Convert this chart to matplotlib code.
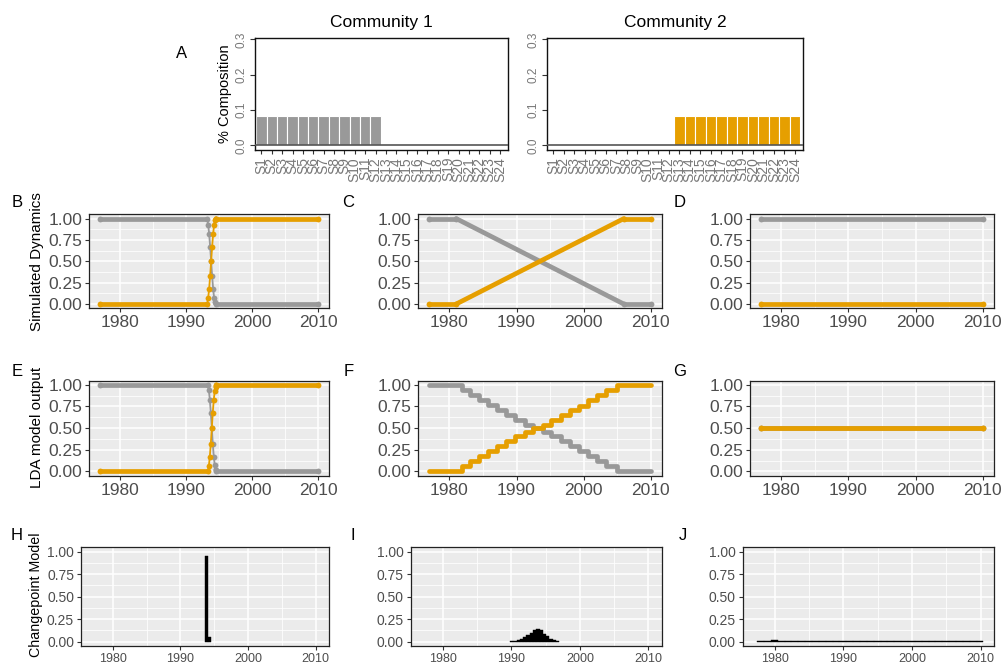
import matplotlib
matplotlib.use("Agg")
import matplotlib.pyplot as plt

plt.rcParams['font.family'] = ['Liberation Sans', 'DejaVu Sans']

# ---------------- data ----------------
species = ["S1", "S2", "S3", "S4", "S5", "S6", "S7", "S8", "S9", "S10", "S11", "S12",
           "S13", "S14", "S15", "S16", "S17", "S18", "S19", "S20", "S21", "S22", "S23", "S24"]
comm1 = [0.083, 0.083, 0.083, 0.083, 0.083, 0.083, 0.083, 0.083, 0.083, 0.083, 0.083, 0.083,
         0, 0, 0, 0, 0, 0, 0, 0, 0, 0, 0, 0]
comm2 = [0, 0, 0, 0, 0, 0, 0, 0, 0, 0, 0, 0,
         0.083, 0.083, 0.083, 0.083, 0.083, 0.083, 0.083, 0.083, 0.083, 0.083, 0.083, 0.083]

# B: simulated abrupt change
b_years = [1977, 1993.2, 1993.35, 1993.5, 1993.65, 1993.8, 1993.95, 1994.1, 1994.25, 1994.4, 1994.55, 2010]
b_comm2 = [0, 0, 0.07, 0.18, 0.33, 0.5, 0.67, 0.82, 0.93, 0.98, 1.0, 1.0]
b_comm1 = [1, 1, 0.93, 0.82, 0.67, 0.5, 0.33, 0.18, 0.07, 0.02, 0.0, 0.0]

# C: simulated gradual change
c_years = [1977, 1981, 2006, 2010]
c_comm1 = [1.0, 1.0, 0.0, 0.0]
c_comm2 = [0.0, 0.0, 1.0, 1.0]

# D: no change
d_years = [1977, 2010]
d_comm1 = [1.0, 1.0]
d_comm2 = [0.0, 0.0]

# E: LDA output, abrupt
e_years = [1977, 1993.3, 1993.45, 1993.6, 1993.75, 1993.9, 1994.05, 1994.2, 1994.35, 1994.5, 1994.6, 2010]
e_comm2 = [0, 0, 0.06, 0.17, 0.32, 0.5, 0.68, 0.83, 0.93, 0.98, 1.0, 1.0]
e_comm1 = [1, 1, 0.94, 0.83, 0.68, 0.5, 0.32, 0.17, 0.07, 0.02, 0.0, 0.0]

# F: LDA output, gradual (stepwise)
f_years = [1977, 1981.8, 1983.1, 1984.4, 1985.8, 1987.1, 1988.5, 1989.8, 1991.2, 1992.5,
           1993.9, 1995.2, 1996.6, 1997.9, 1999.3, 2000.6, 2002.0, 2003.4, 2005.0, 2010]
f_comm1 = [1.0, 0.94, 0.88, 0.82, 0.77, 0.71, 0.65, 0.59, 0.54, 0.50,
           0.46, 0.41, 0.35, 0.29, 0.24, 0.18, 0.12, 0.06, 0.0, 0.0]
f_comm2 = [0.0, 0.06, 0.12, 0.18, 0.23, 0.29, 0.35, 0.41, 0.46, 0.50,
           0.54, 0.59, 0.65, 0.71, 0.76, 0.82, 0.88, 0.94, 1.0, 1.0]

# G: LDA output, no change
g_years = [1977, 2010]
g_comm1 = [0.5, 0.5]
g_comm2 = [0.5, 0.5]

# H-J: changepoint posterior histograms (bin left edges, heights)
h_bins = [1993.6, 1994.08]
h_heights = [0.95, 0.05]
i_bins = [1989.8, 1990.28, 1990.76, 1991.24, 1991.72, 1992.2, 1992.68, 1993.16, 1993.64,
          1994.12, 1994.6, 1995.08, 1995.56, 1996.04, 1996.52]
i_heights = [0.005, 0.008, 0.015, 0.03, 0.05, 0.075, 0.10, 0.13, 0.145,
             0.125, 0.09, 0.06, 0.035, 0.02, 0.01]
j_bins = [1977.4, 1978.4, 1979.4, 1980.4, 1981.4, 1982.4, 1983.4, 1984.4, 1985.4, 1986.4,
          1987.4, 1988.4, 1989.4, 1990.4, 1991.4, 1992.4, 1993.4, 1994.4, 1995.4, 1996.4,
          1997.4, 1998.4, 1999.4, 2000.4, 2001.4, 2002.4, 2003.4, 2004.4, 2005.4, 2006.4,
          2007.4, 2008.4, 2009.4]
j_heights = [0.012, 0.012, 0.02, 0.012, 0.012, 0.012, 0.012, 0.012, 0.012, 0.012,
             0.012, 0.012, 0.012, 0.012, 0.012, 0.012, 0.012, 0.012, 0.012, 0.012,
             0.012, 0.012, 0.012, 0.012, 0.012, 0.012, 0.012, 0.012, 0.012, 0.012,
             0.012, 0.012, 0.012]
hist_binwidth = [0.48, 0.48, 1.0]

GREY = '#999999'
ORANGE = '#E69F00'
TXT = '#4D4D4D'

W, H = 1004, 663
fig = plt.figure(figsize=(W / 100, H / 100), dpi=100)


def rect(l, r, t, b):
    return [l / W, 1 - b / H, (r - l) / W, (b - t) / H]


def ftext(x, y, s, **kw):
    fig.text(x / W, 1 - y / H, s, **kw)


# ---------------- Row A ----------------
def comp_panel(box, vals, color, title, title_xy):
    ax = fig.add_axes(rect(*box))
    pos = list(range(len(species)))
    ax.bar(pos, vals, width=1.0, align='edge', color=color, edgecolor='white', linewidth=0.8, zorder=2)
    ax.axhline(0, color='#555555', lw=1.2, zorder=3)
    ax.set_xlim(-0.12, 24.3)
    ax.set_ylim(-0.013, 0.303)
    ax.set_yticks([0.0, 0.1, 0.2, 0.3])
    ax.set_yticklabels(['0.0', '0.1', '0.2', '0.3'], rotation=90, va='center')
    ax.set_xticks([p + 0.5 for p in pos])
    ax.set_xticklabels(species, rotation=90)
    ax.tick_params(axis='y', length=3.5, width=0.8, color='#333333', labelcolor='#777777',
                   labelsize=8.5, pad=2)
    ax.tick_params(axis='x', length=3, width=0.8, color='#333333', labelcolor='#777777',
                   labelsize=10, pad=2)
    for s in ax.spines.values():
        s.set_color('#111111')
        s.set_linewidth(1.0)
    ftext(title_xy[0], title_xy[1], title, ha='center', va='center', fontsize=12.5)
    return ax


comp_panel((255, 508.3, 38.3, 150), comm1, GREY, 'Community 1', (381.7, 22.5))
comp_panel((546.7, 803.3, 38.3, 150), comm2, ORANGE, 'Community 2', (675, 22.5))
ftext(182, 53, 'A', ha='center', va='center', fontsize=12)
ftext(225, 94, '% Composition', ha='center', va='center', rotation=90, fontsize=10.5)


# ---------------- ggplot-like panels ----------------
def gg_panel(box, xlim, ylim, fsx, fsy):
    ax = fig.add_axes(rect(*box))
    ax.set_facecolor('#EBEBEB')
    ax.set_xlim(*xlim)
    ax.set_ylim(*ylim)
    ax.set_xticks([1980, 1990, 2000, 2010])
    ax.set_xticks([1985, 1995, 2005], minor=True)
    ax.set_yticks([0, 0.25, 0.5, 0.75, 1.0])
    ax.set_yticklabels(['0.00', '0.25', '0.50', '0.75', '1.00'])
    ax.set_yticks([0.125, 0.375, 0.625, 0.875], minor=True)
    ax.grid(which='major', color='white', lw=1.1)
    ax.grid(which='minor', color='white', lw=0.55)
    ax.set_axisbelow(True)
    ax.tick_params(which='minor', length=0)
    ax.tick_params(which='major', length=3, width=0.8, color='#333333', labelcolor=TXT, pad=2)
    ax.tick_params(axis='x', labelsize=fsx)
    ax.tick_params(axis='y', labelsize=fsy)
    for s in ax.spines.values():
        s.set_color('#222222')
        s.set_linewidth(0.9)
    return ax


def draw_series(ax, x, y, color, z):
    for k in range(len(x) - 1):
        dx = x[k + 1] - x[k]
        dy = y[k + 1] - y[k]
        steep = abs(dy) > 0.3 * max(dx, 1e-9)
        ax.plot(x[k:k + 2], y[k:k + 2], color=color, lw=1.3 if steep else 3.4,
                solid_capstyle='round', zorder=z)
    ax.plot(x, y, 'o', color=color, ms=4.2, mew=0, zorder=z)


def draw_steps(ax, x, y, color, z):
    ax.plot(x, y, color=color, lw=3.4, drawstyle='steps-post', solid_capstyle='round',
            solid_joinstyle='round', zorder=z)


XL = (1975.35, 2011.65)
YL = (-0.05, 1.05)
row1 = (214.3, 308.3)
row2 = (380.5, 475.7)
cols = [(89, 329.3), (418.3, 661.7), (750, 994)]

axB = gg_panel((cols[0][0], cols[0][1], *row1), XL, YL, 12.5, 12.5)
draw_series(axB, b_years, b_comm1, GREY, 3)
draw_series(axB, b_years, b_comm2, ORANGE, 4)
axC = gg_panel((cols[1][0], cols[1][1], *row1), XL, YL, 12.5, 12.5)
draw_series(axC, c_years, c_comm1, GREY, 3)
draw_series(axC, c_years, c_comm2, ORANGE, 4)
axD = gg_panel((cols[2][0], cols[2][1], *row1), XL, YL, 12.5, 12.5)
draw_series(axD, d_years, d_comm1, GREY, 3)
draw_series(axD, d_years, d_comm2, ORANGE, 4)

axE = gg_panel((cols[0][0], cols[0][1], *row2), XL, YL, 12.5, 12.5)
draw_series(axE, e_years, e_comm1, GREY, 3)
draw_series(axE, e_years, e_comm2, ORANGE, 4)
axF = gg_panel((cols[1][0], cols[1][1], *row2), XL, YL, 12.5, 12.5)
draw_steps(axF, f_years, f_comm1, GREY, 3)
draw_steps(axF, f_years, f_comm2, ORANGE, 4)
axG = gg_panel((cols[2][0], cols[2][1], *row2), XL, YL, 12.5, 12.5)
draw_series(axG, g_years, g_comm1, GREY, 3)
draw_series(axG, g_years, g_comm2, ORANGE, 4)

XL3 = (1975.3, 2011.95)
YL3 = (-0.048, 1.049)
row3 = (547.3, 646)
hist_sets = [(h_bins, h_heights), (i_bins, i_heights), (j_bins, j_heights)]
cols3 = [(81, 329), (410.7, 661.7), (742.7, 994)]
for (bins, hts), c, bw in zip(hist_sets, cols3, hist_binwidth):
    ax = gg_panel((c[0], c[1], *row3), XL3, YL3, 9, 10)
    ax.bar(bins, hts, width=bw, align='edge', color='black', edgecolor='black', linewidth=0.3, zorder=3)

# panel letters
for lab, x, y in [('B', 16.7, 202.7), ('C', 348.3, 202.7), ('D', 680, 202.7),
                  ('E', 16.7, 372), ('F', 348.3, 371), ('G', 680, 371),
                  ('H', 16.7, 535), ('I', 352.7, 535), ('J', 682.7, 535)]:
    ftext(x, y, lab, ha='center', va='center', fontsize=12)

# row labels
ftext(37, 262, 'Simulated Dynamics', ha='center', va='center', rotation=90, fontsize=11)
ftext(37, 427, 'LDA model output', ha='center', va='center', rotation=90, fontsize=11)
ftext(36, 595, 'Changepoint Model', ha='center', va='center', rotation=90, fontsize=10.3)

fig.savefig('out.png', dpi=100)
